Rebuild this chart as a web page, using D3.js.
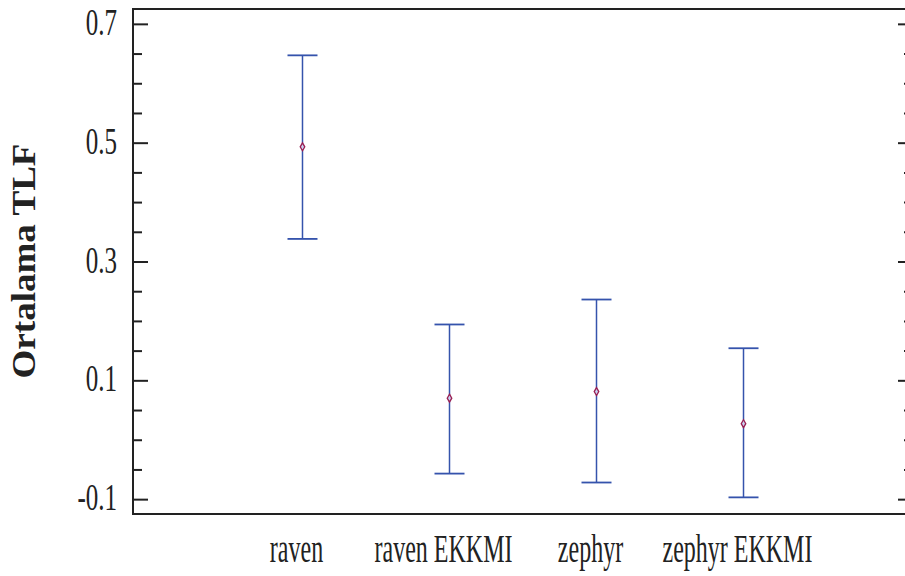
<!DOCTYPE html>
<html>
<head>
<meta charset="utf-8">
<script src="https://cdn.jsdelivr.net/npm/d3@7"></script>
<style>
  body { margin: 0; background: #fff; }
  svg { display: block; }
  text { font-family: 'Liberation Serif', 'Times New Roman', serif; fill: #222; }
</style>
</head>
<body>
<div id="app"></div>
<script>
// Values
const categories = ['raven', 'raven EKKMI', 'zephyr', 'zephyr EKKMI'];
const means = [0.493, 0.070, 0.081, 0.027];
const upper = [0.647, 0.194, 0.236, 0.154];
const lower = [0.338, -0.057, -0.072, -0.097];

const majorTicks = [-0.1, 0.1, 0.3, 0.5, 0.7];
const minorTicks = [-0.05, 0, 0.05, 0.15, 0.2, 0.25, 0.35, 0.4, 0.45, 0.55, 0.6, 0.65];
const yTitle = 'Ortalama TLF';

const width = 905;
const height = 576;

// the right edge of the frame sits just past the window
const margin = { top: 9, right: -8, bottom: 62, left: 133 };

const barColor = '#3553ac';
const markColor = '#9a1f52';
const axisColor = '#222';

const svg = d3.select('#app').append('svg')
  .attr('width', width)
  .attr('height', height);

const plotW = width - margin.left - margin.right;
const plotH = height - margin.top - margin.bottom;

const chart = svg.append('g')
  .attr('transform', `translate(${margin.left}, ${margin.top})`);

const yScale = d3.scaleLinear().domain([-0.125, 0.725]).range([plotH, 0]);
const xScale = d3.scalePoint().domain(categories).range([0, plotW]).padding(1.153);

// frame
chart.append('rect')
  .attr('x', 0)
  .attr('y', 0)
  .attr('width', plotW)
  .attr('height', plotH)
  .attr('fill', 'none')
  .attr('stroke', axisColor)
  .attr('stroke-width', 2);

// left axis, ticks pointing in
const leftMajor = d3.axisLeft(yScale).tickValues(majorTicks).tickSize(-15).tickSizeOuter(0)
  .tickFormat(d3.format('.1f'));
const leftMinor = d3.axisLeft(yScale).tickValues(minorTicks).tickSize(-9).tickSizeOuter(0).tickFormat('');

const gMinor = chart.append('g').call(leftMinor);
const gMajor = chart.append('g').call(leftMajor);

// right axis mirrors the left one
const gRightMinor = chart.append('g').attr('transform', `translate(${plotW},0)`)
  .call(d3.axisRight(yScale).tickValues(minorTicks).tickSize(-9).tickSizeOuter(0).tickFormat(''));
const gRightMajor = chart.append('g').attr('transform', `translate(${plotW},0)`)
  .call(d3.axisRight(yScale).tickValues(majorTicks).tickSize(-15).tickSizeOuter(0).tickFormat(''));

[gMinor, gMajor, gRightMinor, gRightMajor].forEach(g => {
  g.select('.domain').remove();
  g.selectAll('line').attr('stroke', axisColor).attr('stroke-width', 2);
});

// d3.format gives a unicode minus, the picture uses a plain hyphen
gMajor.selectAll('text')
  .text(d => d3.format('.1f')(d).replace('\u2212', '-'))
  .attr('x', null)
  .attr('dy', null)
  .attr('font-size', 38.5)
  .attr('text-anchor', 'end')
  .attr('fill', axisColor)
  .attr('transform', 'translate(-16, 10.5) scale(0.65, 1)');

// x category labels (narrow serif)
chart.selectAll('.xlabel')
  .data(categories)
  .enter()
  .append('text')
  .attr('class', 'xlabel')
  .attr('font-size', 40)
  .attr('text-anchor', 'middle')
  .attr('transform', d => `translate(${xScale(d) - 6}, ${plotH + 48}) scale(0.6, 1)`)
  .text(d => d);

// y title
svg.append('text')
  .attr('font-size', 34)
  .attr('font-weight', 'bold')
  .attr('text-anchor', 'middle')
  .attr('transform', 'translate(35, 261) rotate(-90) scale(1.09, 1)')
  .text(yTitle);

// error bars
const capHalf = 15;
const bars = chart.append('g')
  .selectAll('g')
  .data(categories)
  .enter()
  .append('g');

bars.append('line')
  .attr('x1', d => xScale(d))
  .attr('x2', d => xScale(d))
  .attr('y1', (d, i) => yScale(upper[i]))
  .attr('y2', (d, i) => yScale(lower[i]))
  .attr('stroke', barColor)
  .attr('stroke-width', 1.5);

bars.append('line')
  .attr('x1', d => xScale(d) - capHalf)
  .attr('x2', d => xScale(d) + capHalf)
  .attr('y1', (d, i) => yScale(upper[i]))
  .attr('y2', (d, i) => yScale(upper[i]))
  .attr('stroke', barColor)
  .attr('stroke-width', 1.8);

bars.append('line')
  .attr('x1', d => xScale(d) - capHalf)
  .attr('x2', d => xScale(d) + capHalf)
  .attr('y1', (d, i) => yScale(lower[i]))
  .attr('y2', (d, i) => yScale(lower[i]))
  .attr('stroke', barColor)
  .attr('stroke-width', 1.8);

// mean markers
bars.append('path')
  .attr('d', d3.symbol().type(d3.symbolDiamond).size(18))
  .attr('transform', (d, i) => `translate(${xScale(d)}, ${yScale(means[i])})`)
  .attr('fill', '#c9d2f2')
  .attr('stroke', markColor)
  .attr('stroke-width', 1.3);
</script>
</body>
</html>
